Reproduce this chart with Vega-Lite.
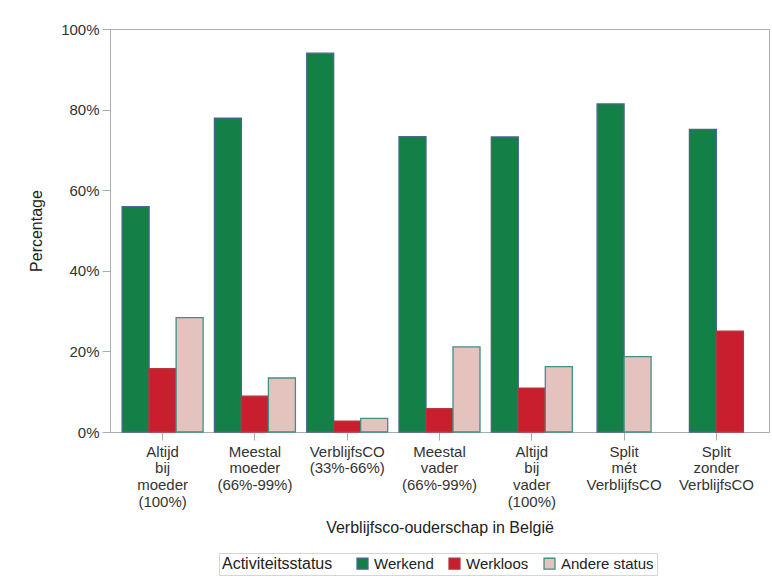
{
  "$schema": "https://vega.github.io/schema/vega-lite/v6.json",
  "autosize": {"type": "none"},
  "padding": {"left": 110, "top": 29, "right": 3, "bottom": 150},
  "width": 659,
  "height": 403,
  "background": "white",
  "config": {
    "font": "Liberation Sans",
    "view": {"stroke": "#a9adb1", "strokeWidth": 1},
    "axis": {
      "domainColor": "#a9adb1",
      "tickColor": "#a9adb1",
      "labelColor": "#333333",
      "titleColor": "#222222",
      "labelFontSize": 15,
      "titleFontSize": 16,
      "titleFontWeight": "normal",
      "grid": false,
      "tickSize": 8
    }
  },
  "data": {
    "values": [
      {"cat": "Altijd bij moeder (100%)", "status": "Werkend", "pct": 55.9},
      {"cat": "Altijd bij moeder (100%)", "status": "Werkloos", "pct": 15.7},
      {"cat": "Altijd bij moeder (100%)", "status": "Andere status", "pct": 28.4},
      {"cat": "Meestal moeder (66%-99%)", "status": "Werkend", "pct": 77.9},
      {"cat": "Meestal moeder (66%-99%)", "status": "Werkloos", "pct": 8.9},
      {"cat": "Meestal moeder (66%-99%)", "status": "Andere status", "pct": 13.4},
      {"cat": "VerblijfsCO (33%-66%)", "status": "Werkend", "pct": 94.0},
      {"cat": "VerblijfsCO (33%-66%)", "status": "Werkloos", "pct": 2.7},
      {"cat": "VerblijfsCO (33%-66%)", "status": "Andere status", "pct": 3.4},
      {"cat": "Meestal vader (66%-99%)", "status": "Werkend", "pct": 73.3},
      {"cat": "Meestal vader (66%-99%)", "status": "Werkloos", "pct": 5.8},
      {"cat": "Meestal vader (66%-99%)", "status": "Andere status", "pct": 21.1},
      {"cat": "Altijd bij vader (100%)", "status": "Werkend", "pct": 73.2},
      {"cat": "Altijd bij vader (100%)", "status": "Werkloos", "pct": 10.9},
      {"cat": "Altijd bij vader (100%)", "status": "Andere status", "pct": 16.2},
      {"cat": "Split mét VerblijfsCO", "status": "Werkend", "pct": 81.4},
      {"cat": "Split mét VerblijfsCO", "status": "Andere status", "pct": 18.7},
      {"cat": "Split zonder VerblijfsCO", "status": "Werkend", "pct": 75.1},
      {"cat": "Split zonder VerblijfsCO", "status": "Werkloos", "pct": 25.0}
    ]
  },
  "transform": [
    {"calculate": "indexof(['Werkend','Werkloos','Andere status'], datum.status)", "as": "ord"},
    {"window": [{"op": "row_number", "as": "rk"}, {"op": "count", "as": "n"}], "groupby": ["cat"], "sort": [{"field": "ord"}], "frame": [null, null]},
    {"calculate": "datum.rk - (datum.n + 1) / 2", "as": "off"}
  ],
  "mark": {"type": "bar", "width": 27, "strokeWidth": 1.3},
  "encoding": {
    "x": {
      "field": "cat",
      "type": "nominal",
      "sort": ["Altijd bij moeder (100%)", "Meestal moeder (66%-99%)", "VerblijfsCO (33%-66%)", "Meestal vader (66%-99%)", "Altijd bij vader (100%)", "Split mét VerblijfsCO", "Split zonder VerblijfsCO"],
      "scale": {"paddingInner": 1, "paddingOuter": 0.57},
      "axis": {
        "title": "Verblijfsco-ouderschap in België",
        "labelAngle": 0,
        "labelExpr": "split(datum.label, ' ')",
        "labelLineHeight": 16.7,
        "labelPadding": 4,
        "titlePadding": 10
      }
    },
    "xOffset": {
      "field": "off",
      "type": "quantitative",
      "scale": {"domain": [-1, 1], "range": [-27, 27]}
    },
    "y": {
      "field": "pct",
      "type": "quantitative",
      "scale": {"domain": [0, 100]},
      "axis": {
        "title": "Percentage",
        "values": [0, 20, 40, 60, 80, 100],
        "labelExpr": "datum.value + '%'",
        "labelPadding": 3,
        "titlePadding": 16
      }
    },
    "fill": {
      "field": "status",
      "type": "nominal",
      "scale": {"domain": ["Werkend", "Werkloos", "Andere status"], "range": ["#138047", "#c91e2e", "#e4c3bf"]},
      "legend": {
        "title": "Activiteitsstatus",
        "orient": "none",
        "legendX": 109,
        "legendY": 524,
        "direction": "horizontal",
        "titleOrient": "left",
        "titleFontSize": 16,
        "titleFontWeight": "normal",
        "titleColor": "#222222",
        "titlePadding": 22,
        "labelFontSize": 15,
        "labelColor": "#222222",
        "symbolType": "square",
        "symbolSize": 120,
        "symbolStrokeWidth": 1.3,
        "strokeColor": "#d6d6d6",
        "padding": 3,
        "columnPadding": 12
      }
    },
    "stroke": {
      "field": "status",
      "type": "nominal",
      "scale": {"domain": ["Werkend", "Werkloos", "Andere status"], "range": ["#4a6690", "#b8353f", "#3f9088"]},
      "legend": null
    }
  }
}
